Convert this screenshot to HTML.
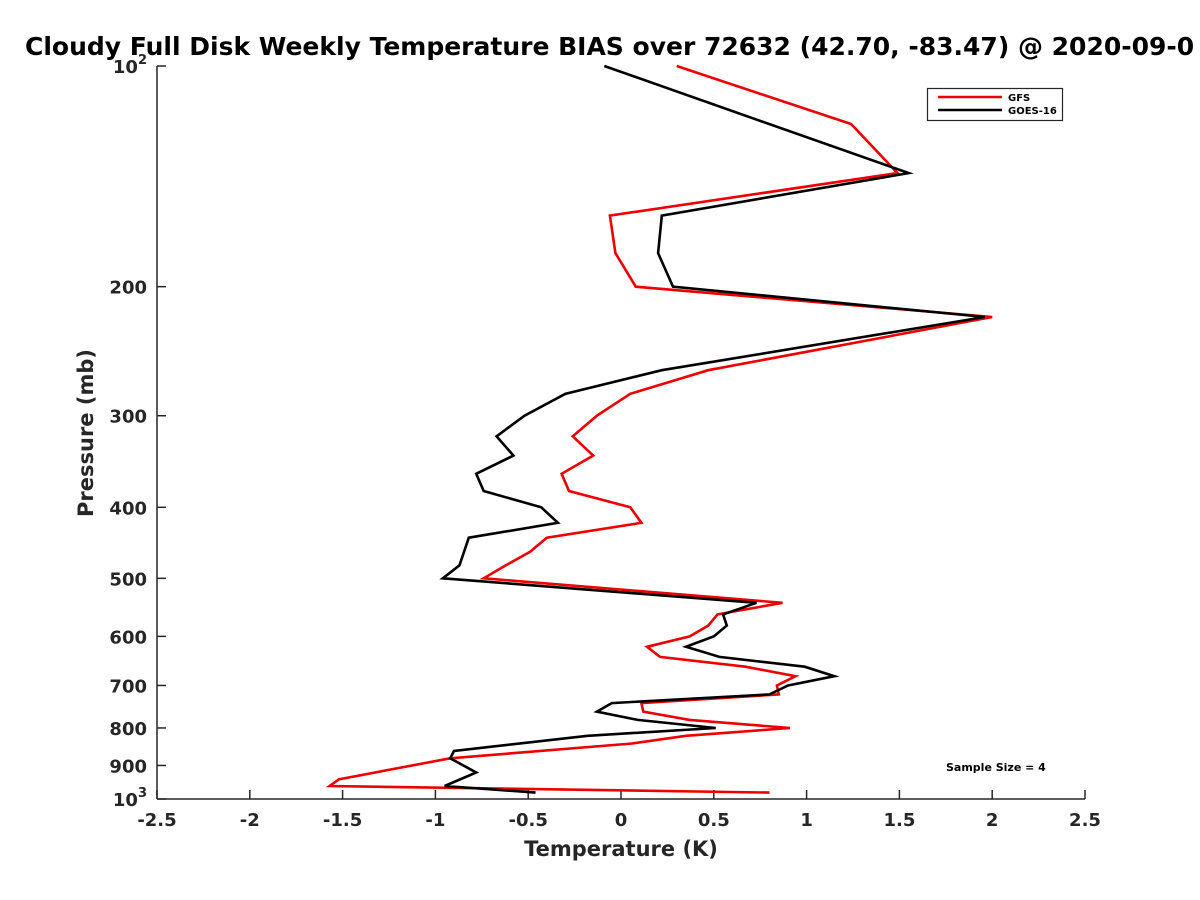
<!DOCTYPE html>
<html><head><meta charset="utf-8"><style>
html,body{margin:0;padding:0;background:#fff;overflow:hidden}
svg{display:block;font-family:"DejaVu Sans","Liberation Sans",sans-serif;font-weight:bold}
</style></head><body>
<svg id="chart" width="1200" height="900" viewBox="0 0 1200 900">
<text x="25" y="55" font-size="25" fill="#000">Cloudy Full Disk Weekly Temperature BIAS over 72632 (42.70, -83.47) @ 2020-09-0</text>
<g id="axes"></g>
<g id="series"></g>
<text x="621" y="856" font-size="21" fill="#262626" text-anchor="middle">Temperature (K)</text>
<text transform="translate(93,433) rotate(-90)" font-size="21" fill="#262626" text-anchor="middle">Pressure (mb)</text>
<g>
<rect x="927.5" y="88.5" width="135" height="32" fill="#fff" stroke="#262626" stroke-width="1.2"/>
<line x1="938" y1="97" x2="1002" y2="97" stroke="#e00" stroke-width="2.5"/>
<text x="1008" y="101" font-size="10" fill="#000">GFS</text>
<line x1="938" y1="110" x2="1002" y2="110" stroke="#000" stroke-width="2.5"/>
<text x="1008" y="114" font-size="10" fill="#000">GOES-16</text>
</g>
<text x="946" y="771" font-size="11" fill="#000">Sample Size = 4</text>
</svg>
<script>
const xTicks = [-2.5,-2,-1.5,-1,-0.5,0,0.5,1,1.5,2,2.5];
const xTickLabels = ["-2.5","-2","-1.5","-1","-0.5","0","0.5","1","1.5","2","2.5"];
const yTicks = [100,200,300,400,500,600,700,800,900,1000];
const yTickLabels = ["10^2","200","300","400","500","600","700","800","900","10^3"];
const gfsPressure = [100,120,140,160,180,200,220,260,280,300,320,340,360,380,400,420,440,460,480,500,540,560,580,600,620,640,660,680,700,720,740,760,780,800,820,840,880,940,960,980];
const gfsTemp = [0.30,1.24,1.49,-0.06,-0.03,0.08,2.00,0.47,0.05,-0.13,-0.26,-0.15,-0.32,-0.28,0.05,0.11,-0.40,-0.49,-0.62,-0.74,0.87,0.52,0.47,0.37,0.14,0.21,0.67,0.94,0.84,0.85,0.11,0.12,0.37,0.91,0.35,0.06,-0.92,-1.52,-1.57,0.80];
const goesPressure = [100,140,160,180,200,220,260,280,300,320,340,360,380,400,420,440,480,500,540,560,580,600,620,640,660,680,700,720,740,760,780,800,820,860,880,920,960,980];
const goesTemp = [-0.09,1.55,0.22,0.20,0.28,1.96,0.22,-0.30,-0.52,-0.67,-0.58,-0.78,-0.74,-0.43,-0.34,-0.82,-0.87,-0.96,0.73,0.55,0.57,0.50,0.35,0.53,0.99,1.15,0.90,0.80,-0.05,-0.13,0.09,0.51,-0.18,-0.90,-0.92,-0.78,-0.95,-0.46];

const L=157,R=1085,T=66,B=799;
function xs(v){return L+(v+2.5)/5*(R-L);}
function ys(p){return T+(Math.log10(p)-2)*(B-T);}
const NS="http://www.w3.org/2000/svg";
const axes=document.getElementById('axes');
const series=document.getElementById('series');
function mk(tag,attrs,parent){const e=document.createElementNS(NS,tag);for(const k in attrs)e.setAttribute(k,attrs[k]);parent.appendChild(e);return e;}

const xl=mk('line',{x1:L,y1:B,x2:R,y2:B,stroke:'#262626','stroke-width':1.5},axes);


const yl=mk('line',{x1:L,y1:T,x2:L,y2:B,stroke:'#262626','stroke-width':1.5},axes);



xTicks.forEach((v,i)=>{
  const x=xs(v);
  const t=mk('line',{x1:x,y1:B,x2:x,y2:B-9,stroke:'#262626','stroke-width':1.5},axes);
  
  
  const lb=mk('text',{x:x,y:B+27,'font-size':18,fill:'#262626','text-anchor':'middle'},axes);
  lb.textContent=xTickLabels[i];
  
  
});
yTicks.forEach((p,i)=>{
  const y=ys(p);
  const t=mk('line',{x1:L,y1:y,x2:L+9,y2:y,stroke:'#262626','stroke-width':1.5},axes);
  
  
  const lb=mk('text',{x:L-10,y:y+7,'font-size':18,fill:'#262626','text-anchor':'end'},axes);
  const s=yTickLabels[i];
  if(s.indexOf('^')>=0){
    const parts=s.split('^');
    lb.textContent='';
    const a=mk('tspan',{},lb);a.textContent=parts[0];
    const b=mk('tspan',{dy:-9,'font-size':13},lb);b.textContent=parts[1];
  } else lb.textContent=s;
  
  
});

function drawLine(ps,ts,color,name){
  const d=ps.map((p,i)=>(i?'L':'M')+xs(ts[i]).toFixed(1)+','+ys(p).toFixed(1)).join(' ');
  const path=mk('path',{d:d,fill:'none',stroke:color,'stroke-width':2.6,'stroke-linejoin':'miter'},series);
  
  
}
drawLine(gfsPressure,gfsTemp,'#e00','gfs-line');
drawLine(goesPressure,goesTemp,'#000','goes16-line');
</script>
</body></html>
